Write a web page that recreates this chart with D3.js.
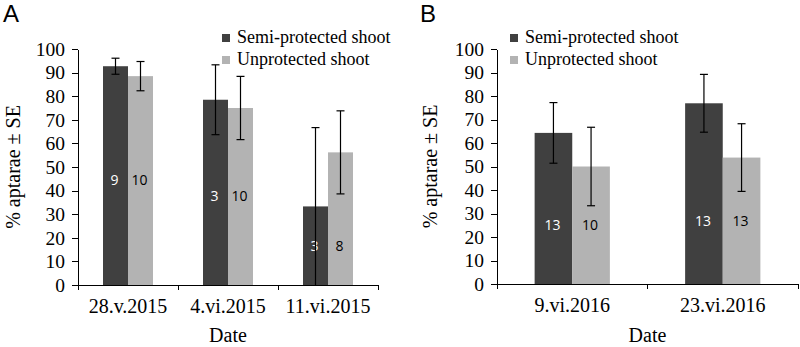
<!DOCTYPE html>
<html>
<head>
<meta charset="utf-8">
<script src="https://cdn.jsdelivr.net/npm/d3@7"></script>
<style>
  body { margin: 0; background: #fff; }
  svg { display: block; }
  .axis path, .axis line { stroke: #000; stroke-width: 1; shape-rendering: crispEdges; }
  .axis text { font-family: "Liberation Serif", "Times New Roman", serif; fill: #000; }
</style>
</head>
<body>
<div id="chart"></div>
<script>
// Panel A: 2015 sampling dates
const datesA = ['28.v.2015', '4.vi.2015', '11.vi.2015'];
const semiA = [92.7, 78.5, 33.3];
const semiSeA = [3.4, 14.8, 33.4];
const unprotA = [88.5, 75.0, 56.2];
const unprotSeA = [6.2, 13.4, 17.6];
const semiNA = [9, 3, 3];
const unprotNA = [10, 10, 8];

// Panel B: 2016 sampling dates
const datesB = ['9.vi.2016', '23.vi.2016'];
const semiB = [64.3, 76.9];
const semiSeB = [12.9, 12.3];
const unprotB = [50.0, 53.8];
const unprotSeB = [16.7, 14.4];
const semiNB = [13, 13];
const unprotNB = [10, 13];

const seriesNames = ['Semi-protected shoot', 'Unprotected shoot'];
const seriesColors = ['#404040', '#b3b3b3'];
const nTextColors = ['#fff', '#000'];
const yTicks = [0, 10, 20, 30, 40, 50, 60, 70, 80, 90, 100];

const svg = d3.select('#chart').append('svg')
    .attr('width', 800)
    .attr('height', 347);

const drawPanel = (cfg) => {
    const { left, right, top, bottom, dates, values, ses, ns, letter, letterX, legendX } = cfg;

    const g = svg.append('g');

    const x0 = d3.scaleBand()
        .domain(dates)
        .range([left, right]);

    // bars fill the middle half of each date band
    const x1 = d3.scaleBand()
        .domain([0, 1])
        .range([0, x0.bandwidth()])
        .paddingOuter(1);

    const y = d3.scaleLinear()
        .domain([0, 100])
        .range([bottom, top]);

    const rows = dates.map((d, i) => ({
        date: d,
        items: [0, 1].map(s => ({ s, v: values[s][i], se: ses[s][i], n: ns[s][i] }))
    }));

    const groups = g.selectAll('.grp')
        .data(rows)
        .enter()
        .append('g')
        .attr('transform', d => `translate(${x0(d.date)},0)`);

    groups.selectAll('rect')
        .data(d => d.items)
        .enter()
        .append('rect')
        .attr('x', d => x1(d.s))
        .attr('width', x1.bandwidth())
        .attr('y', d => y(d.v))
        .attr('height', d => y(0) - y(d.v))
        .attr('fill', d => seriesColors[d.s]);

    // n labels, centred in the lower half of the shorter bar
    groups.each(function(d) {
        const labelV = d3.min(d.items, e => e.v) / 2;
        d3.select(this).selectAll('.n')
            .data(d.items)
            .enter()
            .append('text')
            .attr('x', e => x1(e.s) + x1.bandwidth() / 2 - 1)
            .attr('y', y(labelV))
            .attr('dy', '0.35em')
            .attr('text-anchor', 'middle')
            .style('font-family', '"Open Sans", "Liberation Sans", sans-serif')
            .style('font-size', '14px')
            .style('fill', e => nTextColors[e.s])
            .text(e => e.n);
    });

    // error bars
    const cap = 4;
    groups.each(function(d) {
        const gg = d3.select(this);
        d.items.forEach(e => {
            const cx = x1(e.s) + x1.bandwidth() / 2;
            const hi = y(Math.min(100, e.v + e.se));
            const lo = y(Math.max(0, e.v - e.se));
            gg.append('line')
                .attr('x1', cx).attr('x2', cx)
                .attr('y1', hi).attr('y2', lo)
                .attr('stroke', '#000').attr('stroke-width', 1.2);
            gg.append('line')
                .attr('x1', cx - cap).attr('x2', cx + cap)
                .attr('y1', hi).attr('y2', hi)
                .attr('stroke', '#000').attr('stroke-width', 1.2);
            if (e.v - e.se > 0) {
                gg.append('line')
                    .attr('x1', cx - cap).attr('x2', cx + cap)
                    .attr('y1', lo).attr('y2', lo)
                    .attr('stroke', '#000').attr('stroke-width', 1.2);
            }
        });
    });

    // y axis
    const yAxis = g.append('g')
        .attr('class', 'axis')
        .attr('transform', `translate(${left},0)`)
        .call(d3.axisLeft(y).tickValues(yTicks).tickSize(6).tickSizeOuter(0).tickPadding(7));
    yAxis.selectAll('text').style('font-size', '19.5px');

    // x axis: labels centred on bands, ticks on band edges
    const xAxis = g.append('g')
        .attr('class', 'axis')
        .attr('transform', `translate(0,${bottom})`)
        .call(d3.axisBottom(x0).tickSize(0).tickSizeOuter(0).tickPadding(14));
    xAxis.selectAll('text').style('font-size', '20px');

    const edges = dates.map(d => x0(d)).concat([right]);
    xAxis.selectAll('.edge')
        .data(edges)
        .enter()
        .append('line')
        .attr('x1', d => d).attr('x2', d => d)
        .attr('y1', 0).attr('y2', 5);

    // axis titles
    g.append('text')
        .attr('x', (left + right) / 2)
        .attr('y', 342)
        .attr('text-anchor', 'middle')
        .style('font-family', '"Liberation Serif", serif')
        .style('font-size', '20px')
        .text('Date');

    g.append('text')
        .attr('transform', `translate(${letterX + 17},${(top + bottom) / 2}) rotate(-90)`)
        .attr('text-anchor', 'middle')
        .style('font-family', '"Liberation Serif", serif')
        .style('font-size', '20px')
        .text('% aptarae ± SE');

    // panel letter
    g.append('text')
        .attr('x', letterX)
        .attr('y', 22)
        .style('font-family', '"Liberation Sans", Arial, sans-serif')
        .style('font-size', '24px')
        .text(letter);

    // legend
    seriesNames.forEach((name, i) => {
        const ly = 38 + i * 22;
        g.append('rect')
            .attr('x', legendX)
            .attr('y', ly - 4)
            .attr('width', 8)
            .attr('height', 8)
            .attr('fill', seriesColors[i]);
        g.append('text')
            .attr('x', legendX + 15)
            .attr('y', ly + 5)
            .style('font-family', '"Liberation Serif", serif')
            .style('font-size', '18px')
            .text(name);
    });
};

drawPanel({
    left: 78, right: 378, top: 49, bottom: 285,
    dates: datesA,
    values: [semiA, unprotA], ses: [semiSeA, unprotSeA], ns: [semiNA, unprotNA],
    letter: 'A', letterX: 3, legendX: 222
});

drawPanel({
    left: 497, right: 798, top: 49, bottom: 284,
    dates: datesB,
    values: [semiB, unprotB], ses: [semiSeB, unprotSeB], ns: [semiNB, unprotNB],
    letter: 'B', letterX: 420, legendX: 510
});
</script>
</body>
</html>
